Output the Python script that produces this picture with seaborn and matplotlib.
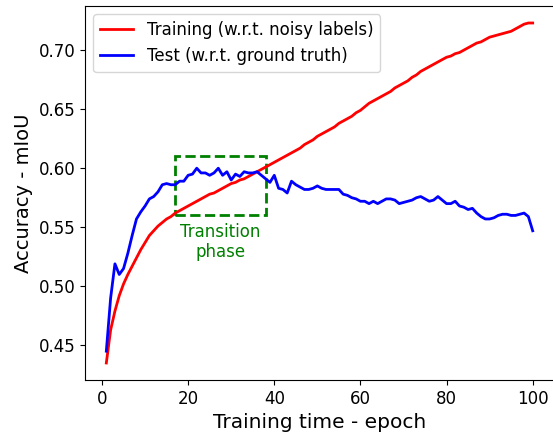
import matplotlib
matplotlib.use("Agg")
import matplotlib.pyplot as plt
from matplotlib.patches import Rectangle
import seaborn as sns
import pandas as pd

epochs = list(range(1, 101))

train_acc = [
    0.435, 0.463, 0.479, 0.492, 0.502, 0.510, 0.517, 0.524, 0.531, 0.537,
    0.543, 0.547, 0.551, 0.554, 0.557, 0.559, 0.562, 0.564, 0.566, 0.568,
    0.570, 0.572, 0.574, 0.576, 0.578, 0.579, 0.581, 0.583, 0.585, 0.587,
    0.588, 0.590, 0.591, 0.593, 0.595, 0.597, 0.599, 0.601, 0.603, 0.605,
    0.607, 0.609, 0.611, 0.613, 0.615, 0.617, 0.620, 0.622, 0.624, 0.627,
    0.629, 0.631, 0.633, 0.635, 0.638, 0.640, 0.642, 0.644, 0.647, 0.649,
    0.652, 0.655, 0.657, 0.659, 0.661, 0.663, 0.665, 0.668, 0.670, 0.672,
    0.674, 0.677, 0.679, 0.682, 0.684, 0.686, 0.688, 0.690, 0.692, 0.694,
    0.695, 0.697, 0.698, 0.700, 0.702, 0.704, 0.706, 0.707, 0.709, 0.711,
    0.712, 0.713, 0.714, 0.715, 0.716, 0.718, 0.720, 0.722, 0.723, 0.723,
]

test_acc = [
    0.445, 0.490, 0.519, 0.510, 0.515, 0.528, 0.543, 0.557, 0.563, 0.568,
    0.574, 0.576, 0.580, 0.586, 0.587, 0.586, 0.586, 0.589, 0.589, 0.594,
    0.595, 0.600, 0.596, 0.596, 0.594, 0.596, 0.600, 0.594, 0.597, 0.590,
    0.595, 0.593, 0.597, 0.596, 0.596, 0.597, 0.594, 0.591, 0.588, 0.594,
    0.583, 0.582, 0.579, 0.589, 0.586, 0.584, 0.582, 0.582, 0.583, 0.585,
    0.583, 0.582, 0.582, 0.582, 0.582, 0.578, 0.577, 0.575, 0.574, 0.572,
    0.572, 0.570, 0.572, 0.570, 0.572, 0.574, 0.574, 0.573, 0.570, 0.571,
    0.572, 0.573, 0.575, 0.576, 0.574, 0.572, 0.573, 0.576, 0.573, 0.570,
    0.570, 0.572, 0.568, 0.567, 0.565, 0.566, 0.562, 0.559, 0.557, 0.557,
    0.558, 0.560, 0.561, 0.561, 0.560, 0.560, 0.561, 0.562, 0.559, 0.547,
]

series_names = ["Training (w.r.t. noisy labels)", "Test (w.r.t. ground truth)"]
series_colors = ["red", "blue"]

box_x = [17, 38]
box_y = [0.56, 0.61]
box_label = "Transition\nphase"

x_label = "Training time - epoch"
y_label = "Accuracy - mIoU"

df = pd.DataFrame({
    "epoch": epochs * 2,
    "acc": train_acc + test_acc,
    "series": [series_names[0]] * len(epochs) + [series_names[1]] * len(epochs),
})

fig, ax = plt.subplots(figsize=(5.53, 4.37), dpi=100)
ax.set_position([85 / 553, (437 - 380) / 437, 469 / 553, 374 / 437])

sns.lineplot(data=df, x="epoch", y="acc", hue="series",
             palette=dict(zip(series_names, series_colors)),
             linewidth=2, ax=ax)

rect = Rectangle((box_x[0], box_y[0]), box_x[1] - box_x[0], box_y[1] - box_y[0],
                 fill=False, edgecolor="green", linestyle="--", linewidth=2)
ax.add_patch(rect)
ax.text((box_x[0] + box_x[1]) / 2, box_y[0] - 0.006, box_label, color="green",
        ha="center", va="top", fontsize=12)

ax.set_xlabel(x_label, fontsize=14.5)
ax.set_ylabel(y_label, fontsize=14)
ax.tick_params(labelsize=12)
ax.set_xticks([0, 20, 40, 60, 80, 100])
ax.set_yticks([0.45, 0.50, 0.55, 0.60, 0.65, 0.70])
ax.set_yticklabels(["0.45", "0.50", "0.55", "0.60", "0.65", "0.70"])
ax.set_xlim(-3.95, 104.95)
ax.set_ylim(0.4206, 0.7374)
ax.spines["right"].set_visible(False)
ax.legend(loc="upper left", fontsize=12, title=None)

fig.savefig("out.png", dpi=100)
